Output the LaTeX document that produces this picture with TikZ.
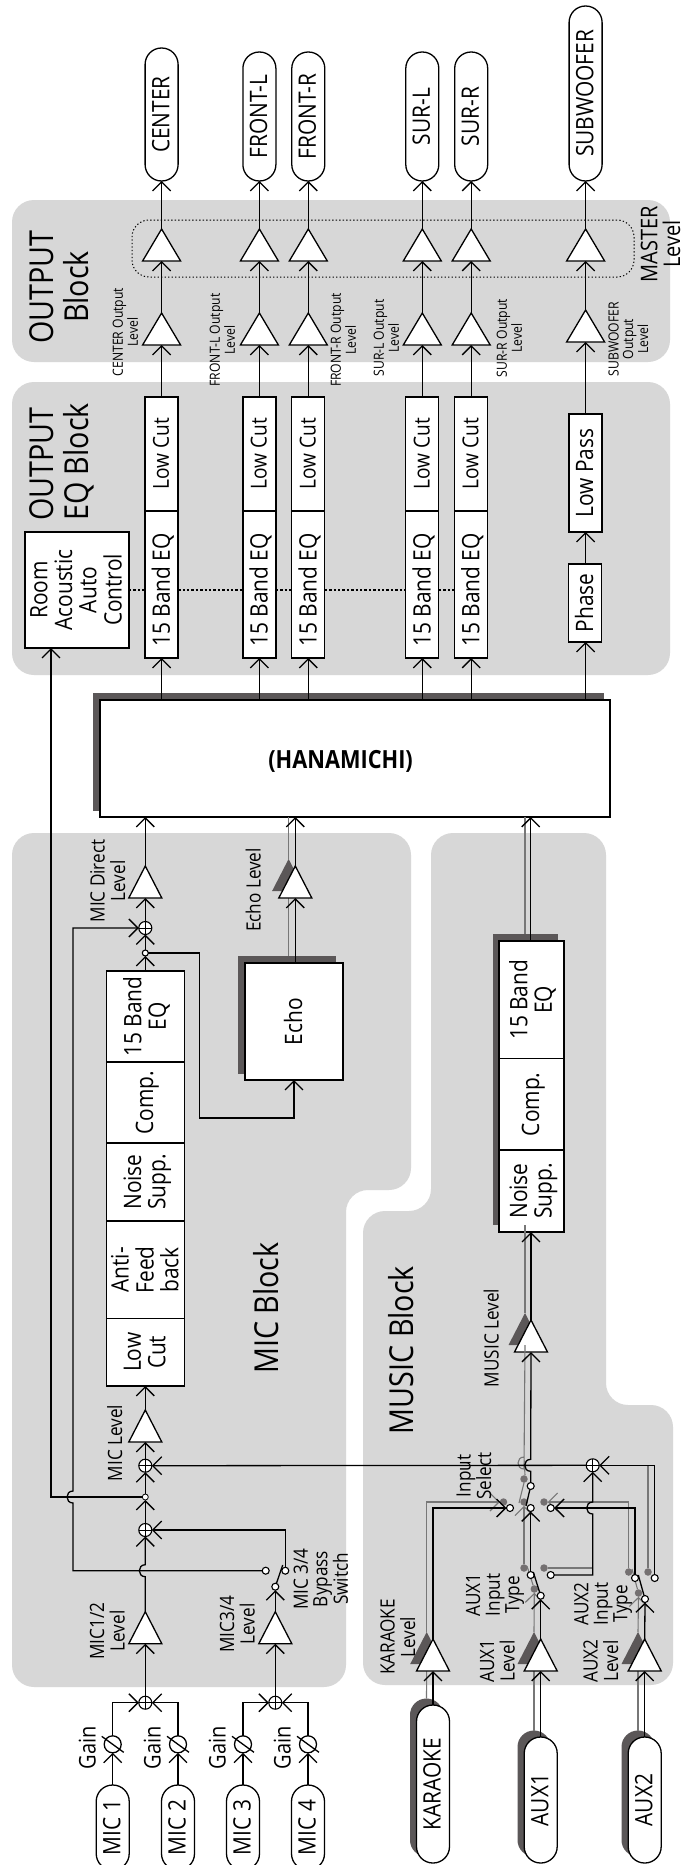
\documentclass[tikz,border=0pt]{standalone}
\usepackage{fontspec}
\usepackage{graphicx}
\setmainfont[FakeStretch=0.87]{Open Sans}
\usetikzlibrary{arrows.meta,calc,shapes.geometric}
\definecolor{bgc}{HTML}{D7D7D7}
\definecolor{shd}{HTML}{5B5758}
\definecolor{gln}{HTML}{777777}
\newcommand\vt[2][c]{\hspace*{5pt}\rotatebox{90}{\begin{tabular}{@{}#1@{}}#2\end{tabular}}}
\newcommand\hopto[1]{-- ($(#1)+(0,6)$) .. controls +(-8,0) and +(-8,0) .. ($(#1)+(0,-6)$)}
\tikzset{
  x=1pt,y=-1pt,
  lw/.style={line width=1.3pt},
  plainw/.style={lw,draw=black},
  wire/.style={lw,-{Straight Barb[length=9pt,width=18pt,line width=1.3pt]}},
  gplain/.style={line width=1.1pt,draw=gln},
  gwire/.style={line width=1.1pt,draw=gln,-{Straight Barb[length=9pt,width=18pt,line width=1.1pt,color=gln]}},
  bgblock/.style={fill=bgc,draw=none,rounded corners=22pt,inner sep=0pt,outer sep=0pt},
  blk/.style={draw,fill=white,lw,inner sep=0pt,outer sep=0pt,font=\fontsize{24}{23.5}\selectfont},
  pill/.style={blk,rounded corners=16.4pt,minimum width=33pt},
  shadowpill/.style={fill=shd,rounded corners=16.4pt,minimum width=33pt,inner sep=0pt,outer sep=0pt},
  shadowbox/.style={fill=shd,inner sep=0pt,outer sep=0pt},
  amp/.style={isosceles triangle,isosceles triangle stretches,shape border rotate=90,minimum height=32pt,minimum width=#1,inner sep=0pt,outer sep=0pt,draw,fill=white,lw},
  amp/.default=33pt,
  samp/.style={isosceles triangle,isosceles triangle stretches,shape border rotate=90,minimum height=32pt,minimum width=33pt,inner sep=0pt,outer sep=0pt,fill=shd},
  sumn/.style={circle,draw,fill=white,minimum size=13pt,inner sep=0pt,outer sep=0pt,line width=1.1pt,
    path picture={\draw[line width=.9pt] (path picture bounding box.north) -- (path picture bounding box.south) (path picture bounding box.west) -- (path picture bounding box.east);}},
  gainn/.style={circle,draw,fill=white,minimum size=17pt,inner sep=0pt,outer sep=0pt,lw},
  cnt/.style={circle,draw,fill=white,minimum size=7pt,inner sep=0pt,outer sep=0pt,line width=1.1pt},
  gdot/.style={circle,fill=shd!85!white,minimum size=7.5pt,inner sep=0pt,outer sep=0pt},
  big/.style={inner sep=0pt,font=\fontsize{33}{31.5}\selectfont},
  mid/.style={inner sep=0pt,font=\fontsize{24}{22.5}\selectfont},
  lab/.style={inner sep=0pt,font=\fontsize{19.7}{18.5}\selectfont},
  tiny/.style={inner sep=0pt,font=\fontsize{14}{14.5}\selectfont},
}
\begin{document}
\begin{tikzpicture}
\useasboundingbox (0,0) rectangle (684,1865);
\clip (0,0) rectangle (684,1865);
\fill[white] (0,0) rectangle (684,1865);
% block backgrounds
\node[bgblock,minimum width=658pt,minimum height=162pt] (outblock) at (341,281) {};
\node[bgblock,minimum width=658pt,minimum height=293pt] (eqblock) at (341,528.5) {};
\fill[bgc,rounded corners=22pt] (12,833) -- (411,833) -- (411,1190) -- (346,1190) -- (346,1687) -- (12,1687) -- cycle;
\fill[bgc,rounded corners=22pt] (431,833) -- (606,833) -- (606,1405) -- (673,1405) -- (673,1685) -- (363,1685) -- (363,1211) -- (431,1211) -- cycle;
% master dotted group
\node[draw,dash pattern=on 1.3pt off 2.2pt,line width=1pt,rounded corners=17pt,minimum width=502pt,minimum height=57pt,inner sep=0pt] (mastergroup) at (383,248.5) {};
% output channels
\foreach \n/\x/\ty/\txt in {C/161.6/48/CENTER,FL/259.4/52/FRONT-L,FR/308.3/52/FRONT-R,SL/422.3/52/SUR-L,SR/471.2/52/SUR-R,SW/585.6/6/SUBWOOFER}{
  \pgfmathsetmacro\ph{181-\ty}
  \node[pill,anchor=south,minimum height=\ph pt] (pill\n) at (\x,181) {\vt{\txt}};
  \node[amp=38pt,anchor=apex] (mst\n) at (\x,229) {};
  \draw[wire] (mst\n.apex) -- (pill\n.south);
}
\foreach \n/\x in {C/161.6,FL/259.4,FR/308.3,SL/422.3,SR/471.2}{
  \node[amp=38pt,anchor=apex] (out\n) at (\x,313) {};
  \node[blk,font=\fontsize{22}{23.5}\selectfont,minimum width=33pt,minimum height=114pt] (lc\n) at (\x,454) {\vt{Low Cut}};
  \node[blk,minimum width=33pt,minimum height=147pt] (eq\n) at (\x,584.5) {};
  \node[mid] (eqt\n) at (\x,590) {\vt{15 Band EQ}};
  \draw[wire] (out\n.apex) -- (mst\n.lower side);
  \draw[wire] (lc\n.north) -- (out\n.lower side);
}
\node[amp=38pt,anchor=apex] (outSW) at (585.6,310) {};
\draw[wire] (outSW.apex) -- (mstSW.lower side);
\node[blk,minimum width=33pt,minimum height=118pt] (lp) at (585.6,473) {\vt{Low Pass}};
\node[blk,minimum width=33pt,minimum height=78pt] (phase) at (585,603) {\vt{Phase}};
\draw[wire] (lp.north) -- (outSW.lower side);
\draw[wire] (phase.north -| lp.north) -- (lp.south);
\node[blk,minimum width=104pt,minimum height=116pt] (room) at (77,590) {\vt{Room\\Acoustic\\Auto\\Control}};
% dotted link
\coordinate (dl) at (0,590);
\draw[line width=1.5pt,dash pattern=on 2.4pt off 2pt] (room.east |- dl) -- (eqC.west |- dl) (eqC.east |- dl) -- (eqFL.west |- dl) (eqFL.east |- dl) -- (eqFR.west |- dl) (eqFR.east |- dl) -- (eqSL.west |- dl) (eqSL.east |- dl) -- (eqSR.west |- dl);
% hanamichi
\node[shadowbox,minimum width=511pt,minimum height=118pt] (hanas) at (348.5,752) {};
\node[blk,minimum width=510pt,minimum height=117pt] (hana) at (355,758.5) {};
\node[inner sep=0pt,font=\bfseries\fontsize{25}{25}\selectfont] (hanat) at (340.6,761) {(HANAMICHI)};
\foreach \n in {C,FL,FR,SL,SR}{\draw[wire] (hana.north -| eq\n.south) -- (eq\n.south);}
\draw[wire] (hana.north -| lp.south) -- (lp.south |- phase.south);
% mic sources
\foreach \n/\x in {1/112.7,2/178,3/243,4/308}{
  \node[pill,minimum height=85pt] (mic\n) at (\x,1827.5) {\vt{MIC \n}};
  \node[gainn] (gain\n) at (\x,1744.3) {};
  \draw[wire] (mic\n.north) -- (gain\n.south);
  \draw[plainw] ($(gain\n)+(-11,-8)$) -- ($(gain\n)+(11,8)$);
}
\foreach \n/\x in {1/88,2/153,3/218,4/283}{\node[mid,font=\fontsize{23}{22}\selectfont] (gainl\n) at (\x,1748) {\vt{Gain}};}
\node[sumn] (s12) at (145.3,1702.7) {};
\node[sumn] (s34) at (275.3,1702.7) {};
\draw[wire] (gain1.north) |- (s12.west);
\draw[wire] (gain2.north) |- (s12.east);
\draw[wire] (gain3.north) |- (s34.west);
\draw[wire] (gain4.north) |- (s34.east);
\node[amp,anchor=apex] (a12) at (145.3,1611.7) {};
\node[amp,anchor=apex] (a34) at (275.3,1611.7) {};
\draw[wire] (s12.north) -- (a12.lower side);
\draw[wire] (s34.north) -- (a34.lower side);
% bypass switch
\node[cnt] (swc) at (275.3,1586.7) {};
\node[cnt] (swa) at (265.7,1570.7) {};
\node[cnt] (swb) at (285.3,1570.7) {};
\coordinate (swarm) at (282.7,1565);
\draw[wire] (a34.apex) -- (swc.south);
\draw[plainw] (swc) -- (swarm);
\node[sumn] (sb) at (145.3,1530) {};
\node[cnt,minimum size=6pt,line width=.8pt] (tapb) at (145.3,1497) {};
\node[sumn] (smain) at (145.3,1465.7) {};
\coordinate (hA) at (145.3,1570.7);
\coordinate (hB) at (73,1497);
\coordinate (kA) at (73,1570.7);
\coordinate (kB) at (73,928);
\coordinate (kC) at (51,1497);
\draw[wire] (a12.apex) \hopto{hA} -- (sb.south);
\draw[wire] (sb.north) -- (tapb.south);
\draw[wire] (tapb.north) -- (smain.south);
\draw[wire] (swb.north) |- (sb.east);
% mic chain
\node[amp,anchor=apex] (alevel) at (145.3,1410) {};
\draw[wire] (smain.north) -- (alevel.lower side);
\node[blk,minimum width=78pt,minimum height=91pt] (m5) at (145.5,1016.5) {\vt{15 Band\\EQ}};
\node[blk,minimum width=78pt,minimum height=81pt] (m4) at (145.5,1102.5) {\vt{Comp.}};
\node[blk,minimum width=78pt,minimum height=78pt] (m3) at (145.5,1182) {\vt{Noise\\Supp.}};
\node[blk,minimum width=78pt,minimum height=97.6pt] (m2) at (145.5,1269.8) {};
\node[mid,font=\fontsize{24}{22}\selectfont] (m2t) at (145.5,1269.8) {\vt{Anti-\\Feed\\back}};
\node[blk,minimum width=78pt,minimum height=67.4pt] (m1) at (145.5,1352.3) {\vt{Low\\Cut}};
\draw[wire] (alevel.apex) -- (alevel.apex |- m1.south);
\node[cnt,minimum size=6pt] (tap) at (145.3,953) {};
\node[sumn] (sdir) at (145.3,928) {};
\node[amp,anchor=apex] (adir) at (145.3,866) {};
\draw[wire] (tap |- m5.north) -- (tap.south);
\draw[wire] (tap.north) -- (sdir.south);
\draw[wire] (sdir.north) -- (adir.lower side);
\draw[wire] (adir.apex) -- (adir.apex |- hana.south);
\draw[wire] (swa.west) -- (kA) \hopto{hB} -- (kB) -- (sdir.west);
\draw[wire] (tapb.west) -- (kC) -- (kC |- room.south);
% echo
\node[shadowbox,minimum width=98pt,minimum height=118pt] (echos) at (287,1015) {};
\node[samp,anchor=apex] (aechos) at (288.6,859) {};
\draw[gplain] (echos.north -| aechos.apex) -- (aechos.lower side);
\draw[gplain] (aechos.apex) -- (aechos.apex |- hana.south);
\node[blk,minimum width=98pt,minimum height=117pt] (echo) at (294,1021.5) {\vt{Echo}};
\node[amp,anchor=apex] (aecho) at (295.3,866) {};
\draw[wire] (echo.north -| aecho.apex) -- (aecho.lower side);
\draw[wire] (aecho.apex) -- (aecho.apex |- hana.south);
\coordinate (e1) at (199.5,953);
\coordinate (e2) at (199.5,1118);
\draw[wire] (tap.east) -- (e1) -- (e2) -| (echo.south);
% music chain
\node[shadowbox,minimum width=65pt,minimum height=291pt] (mus) at (525,1079.5) {};
\node[samp,anchor=apex] (amuss) at (525,1313) {};
\node[blk,minimum width=65pt,minimum height=117.6pt] (b3) at (531.5,999.8) {\vt{15 Band\\EQ}};
\node[blk,minimum width=65pt,minimum height=91.4pt] (b2) at (531.5,1104.3) {\vt{Comp.}};
\node[blk,minimum width=65pt,minimum height=82pt] (b1) at (531.5,1191) {\vt{Noise\\Supp.}};
\node[amp,anchor=apex] (amus) at (531,1320) {};
% input shadows
\node[shadowpill,minimum height=158pt] (kars) at (426.5,1777.5) {};
\node[shadowpill,minimum height=126pt] (aux1s) at (534,1793.5) {};
\node[shadowpill,minimum height=126pt] (aux2s) at (638,1793.5) {};
\node[samp,anchor=apex] (akars) at (426.7,1632) {};
\node[samp,anchor=apex] (aaux1s) at (534,1632) {};
\node[samp,anchor=apex] (aaux2s) at (638,1632) {};
% gray contacts
\node[gdot] (g1) at (524,1479) {};
\node[gdot] (g2) at (503.5,1502) {};
\node[gdot] (g3) at (524,1502) {};
\node[gdot] (g4) at (544,1502) {};
\node[gdot] (g5) at (524,1568) {};
\node[gdot] (g6) at (544,1568) {};
\node[gdot] (g7) at (534.3,1589) {};
\node[gdot] (g8) at (628.7,1572) {};
\node[gdot] (g9) at (648,1572) {};
\node[gdot] (g10) at (638.5,1593) {};
\coordinate (hG) at (524,1463);
\coordinate (gH) at (592.7,1502);
\coordinate (gJ) at (648,1465.3);
\coordinate (gArm1) at (519,1503);
\coordinate (gArm2) at (527,1566);
\coordinate (gArm3) at (632,1569);
% gray wires
\draw[gplain] (mus.south -| amuss.apex) -- (amuss.apex);
\draw[gplain] (mus.north -| amuss.apex) -- (amuss.apex |- hana.south);
\draw[gplain] (amuss.lower side) \hopto{hG} -- (amuss.lower side |- g1.north);
\draw[gplain] (g1.south) -- (gArm1);
\draw[gwire] (g5.north) -- (g3.south);
\draw[gwire] (akars.apex) |- (g2.west);
\draw[gwire] (aaux1s.apex) -- (g7.south);
\draw[gplain] (g7) -- (gArm2);
\draw[gwire] (aaux2s.apex) -- (g10.south);
\draw[gplain] (g10) -- (gArm3);
\draw[gwire] (g8.north) |- (g4.east);
\draw[gplain] (g6.east) -- (g6.east -| gH);
\draw[gplain] (g9.north) -- (gJ);
\draw[gplain] (kars.north) -- (akars.lower side);
\draw[gplain] (aux1s.north) -- (aaux1s.lower side);
\draw[gplain] (aux2s.north) -- (aaux2s.lower side);
% input pills and amps
\node[pill,minimum height=158pt] (kar) at (433,1784) {\vt{KARAOKE}};
\node[pill,minimum height=126pt] (aux1) at (540.7,1800) {\vt{AUX1}};
\node[pill,minimum height=126pt] (aux2) at (644.7,1800) {\vt{AUX2}};
\node[amp,anchor=apex] (akar) at (433,1639) {};
\node[amp,anchor=apex] (aaux1) at (540.7,1639) {};
\node[amp,anchor=apex] (aaux2) at (644.7,1639) {};
\draw[wire] (kar.north) -- (akar.lower side);
\draw[wire] (aux1.north) -- (aaux1.lower side);
\draw[wire] (aux2.north) -- (aaux2.lower side);
% switches
\node[cnt] (isout) at (530.7,1486) {};
\node[cnt] (iskar) at (510,1508) {};
\node[cnt] (isaux1) at (530.7,1508) {};
\node[cnt] (isaux2) at (550.7,1508) {};
\node[cnt] (t1in) at (540.7,1595.7) {};
\node[cnt] (t1a) at (530.7,1575) {};
\node[cnt] (t1b) at (550.7,1575) {};
\node[cnt] (t2in) at (645,1599) {};
\node[cnt] (t2a) at (635,1578) {};
\node[cnt] (t2b) at (654.7,1578) {};
\coordinate (arm0) at (526,1506);
\coordinate (arm1) at (533.3,1572);
\coordinate (arm2) at (638.3,1575);
\node[sumn] (saux) at (592.7,1465.3) {};
\coordinate (hM) at (530.7,1465.3);
\coordinate (hS) at (592.7,1508);
\coordinate (kT) at (592.7,1575);
\draw[plainw] (isout) -- (arm0);
\draw[plainw] (t1in) -- (arm1);
\draw[plainw] (t2in) -- (arm2);
\draw[wire] (akar.apex) |- (iskar.west);
\draw[wire] (aaux1.apex) -- (t1in.south);
\draw[wire] (aaux2.apex) -- (t2in.south);
\draw[wire] (t1a.north) -- (isaux1.south);
\draw[wire] (t2a.north) |- (isaux2.east);
\draw[wire] (t1b.east) -- (kT) \hopto{hS} -- (saux.south);
\draw[wire] (t2b.north) |- (saux.east);
\draw[wire] (saux.west) -- (smain.east);
\draw[wire] (isout.north) \hopto{hM} -- (amus.lower side);
\draw[wire] (amus.apex) -- (amus.apex |- b1.south);
\draw[wire] (b3.north -| hM) -- (hM |- hana.south);
% labels
\node[big] (loutb) at (61.5,287) {\vt{OUTPUT\\Block}};
\node[big] (leqb) at (61.5,462) {\vt[l]{OUTPUT\\EQ Block}};
\node[big] (lmicb) at (268.5,1308) {\vt{MIC Block}};
\node[big] (lmusb) at (403,1350) {\vt{MUSIC Block}};
\node[mid,font=\fontsize{23}{17.5}\selectfont] (lmaster) at (660.5,244) {\vt{MASTER\\Level}};
\node[tiny] (l1) at (125,332) {\vt{CENTER Output\\Level}};
\node[tiny] (l2) at (222,340) {\vt{FRONT-L Output\\Level}};
\node[tiny] (l3) at (343,340) {\vt{FRONT-R Output\\Level}};
\node[tiny] (l4) at (386,338) {\vt{SUR-L Output\\Level}};
\node[tiny] (l5) at (509,338) {\vt{SUR-R Output\\Level}};
\node[tiny] (l6) at (628,339) {\vt{SUBWOOFER\\Output\\Level}};
\node[lab] (l7) at (108,881) {\vt{MIC Direct\\Level}};
\node[lab] (l8) at (253.3,890) {\vt{Echo Level}};
\node[lab] (l9) at (115,1443) {\vt{MIC Level}};
\node[lab] (l10) at (107.5,1631) {\vt{MIC1/2\\Level}};
\node[lab] (l11) at (237.5,1624) {\vt{MIC3/4\\Level}};
\node[lab] (l12) at (321,1579) {\vt{MIC 3/4\\Bypass\\Switch}};
\node[lab] (l13) at (491.5,1338) {\vt{MUSIC Level}};
\node[lab] (l14) at (398,1637) {\vt{KARAOKE\\Level}};
\node[lab] (l15) at (497.5,1661) {\vt{AUX1\\Level}};
\node[lab] (l16) at (601,1661) {\vt{AUX2\\Level}};
\node[lab] (l17) at (493,1595) {\vt{AUX1\\Input\\Type}};
\node[lab] (l18) at (601,1604) {\vt{AUX2\\Input\\Type}};
\node[lab] (l19) at (474,1476) {\vt{Input\\Select}};
\end{tikzpicture}
\end{document}
